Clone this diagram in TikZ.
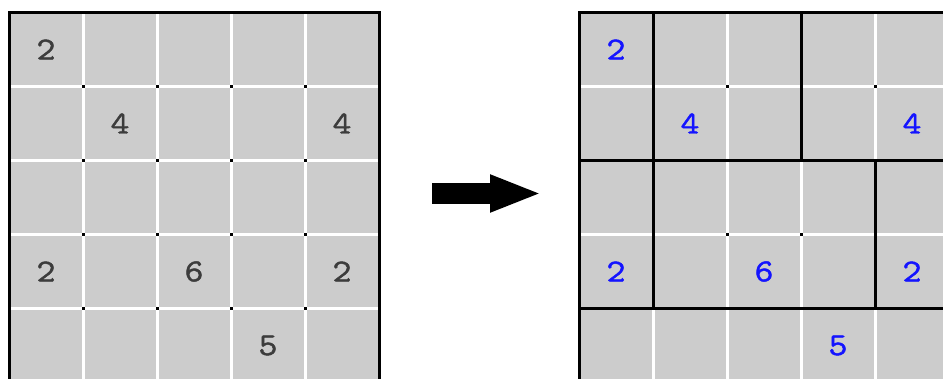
\documentclass[tikz,border=0pt]{standalone}
\usepackage{fontspec}
\usepackage{tikz}
\usetikzlibrary{arrows.meta}
\newfontfamily\cluefont[FakeBold=1.4,FakeStretch=1.15]{Latin Modern Mono}
\definecolor{cellgray}{RGB}{204,204,204}
\definecolor{cluegray}{RGB}{60,60,60}
\definecolor{clueblue}{RGB}{20,20,255}
\tikzset{
  board/.style={fill=cellgray},
  gridline/.style={white, line width=3pt},
  wall/.style={black, line width=3pt, line cap=rect},
  border/.style={black, line width=3pt},
  joint/.style={fill=black},
  clue/.style={font=\cluefont\fontsize{32}{32}\selectfont, text=cluegray, inner sep=0pt},
  solved/.style={clue, text=clueblue},
  bigarrow/.style={line width=21pt, -{Triangle[length=52pt, width=34pt]}}
}
\begin{document}
\begin{tikzpicture}[x=1pt,y=-1pt]
  \useasboundingbox (0,0) rectangle (943,379);
  \clip (0,0) rectangle (943,379);
  % puzzle board
  \fill[board] (9,12.5) rectangle (379,382.5);
  \foreach \x in {83,157,231,305} {\draw[gridline] (\x,12.5) -- (\x,382.5);}
  \foreach \y in {86.5,160.5,234.5,308.5} {\draw[gridline] (9,\y) -- (379,\y);}
  \foreach \x in {83,157,231,305}
    \foreach \y in {86.5,160.5,234.5,308.5} {\fill[joint] (\x-1.5,\y-1.5) rectangle (\x+1.5,\y+1.5);}
  \draw[border] (9,12.5) rectangle (379,382.5);
  % solved board
  \fill[board] (579,12.5) rectangle (949,382.5);
  \foreach \x in {653,727,801,875} {\draw[gridline] (\x,12.5) -- (\x,382.5);}
  \foreach \y in {86.5,160.5,234.5,308.5} {\draw[gridline] (579,\y) -- (949,\y);}
  \foreach \x/\y in {727/86.5,875/86.5,727/234.5,801/234.5} {\fill[joint] (\x-1.5,\y-1.5) rectangle (\x+1.5,\y+1.5);}
  \draw[wall] (653,12.5) -- (653,308.5);
  \draw[wall] (801,12.5) -- (801,160.5);
  \draw[wall] (875,160.5) -- (875,308.5);
  \draw[wall] (579,160.5) -- (949,160.5);
  \draw[wall] (579,308.5) -- (949,308.5);
  \draw[border] (579,12.5) rectangle (949,382.5);
  % clues
  \foreach \c/\r/\n in {0/0/2,1/1/4,4/1/4,0/3/2,2/3/6,4/3/2,3/4/5} {
    \node[clue] (l-\c-\r) at ({46+74*\c},{49.5+74*\r}) {\n};
    \node[solved] (r-\c-\r) at ({616+74*\c},{49.5+74*\r}) {\n};
  }
  % arrow
  \coordinate (tail) at (432,193.5);
  \coordinate (tip) at (542,193.5);
  \draw[bigarrow] (tail) -- (tip);
\end{tikzpicture}
\end{document}
